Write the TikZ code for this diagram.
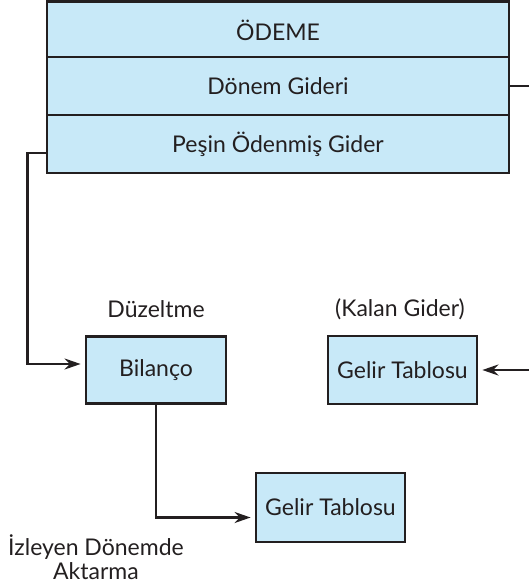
\documentclass[tikz,border=0pt]{standalone}
\usepackage{fontspec}
\setmainfont{Lato}
\usetikzlibrary{arrows.meta}

\definecolor{kutumavi}{RGB}{200,233,248}
\definecolor{koyu}{RGB}{35,31,32}

\tikzset{
  kutu/.style={draw=koyu, line width=2.8pt, fill=kutumavi, inner sep=0pt},
  ok/.style={draw=koyu, line width=2.3pt, ->, shorten >=4pt},
  yazi/.style={text=koyu}
}

\begin{document}
\begin{tikzpicture}[>={Stealth[length=16pt,width=11pt]}, x=1pt, y=-1pt,
    every node/.style={font=\fontsize{23}{24}\selectfont, text=koyu}]
  \useasboundingbox (0, 0) rectangle (529, 583);

  \node[kutu, minimum width=462pt, minimum height=57pt] (odeme) at (278, 30) {ÖDEME};
  \node[kutu, minimum width=462pt, minimum height=58pt] (donem) at (278, 86) {Dönem Gideri};
  \node[kutu, minimum width=462pt, minimum height=58pt] (pesin) at (278, 144) {Peşin Ödenmiş Gider};

  \node[kutu, minimum width=140pt, minimum height=67pt] (bilanco) at (156, 370) {Bilanço};
  \node[kutu, minimum width=149pt, minimum height=68pt] (gelir1) at (402.5, 370) {Gelir Tablosu};
  \node[kutu, minimum width=149pt, minimum height=69pt] (gelir2) at (330.5, 507.5) {Gelir Tablosu};

  \node[yazi] (duzeltme) at (156, 309) {Düzeltme};
  \node[yazi] (kalan) at (400, 309) {(Kalan Gider)};
  \node[yazi, align=center] (aktarma) at (96, 557) {İzleyen Dönemde\\Aktarma};

  \draw[ok] ([yshift=-9pt]pesin.west) -- ++(-18, 0) |- ([yshift=6pt]bilanco.west);
  \draw[ok] (donem.east) -- ++(23, 0) |- (gelir1.east);
  \draw[ok] (bilanco.south) |- ([yshift=-10pt]gelir2.west);
\end{tikzpicture}
\end{document}
